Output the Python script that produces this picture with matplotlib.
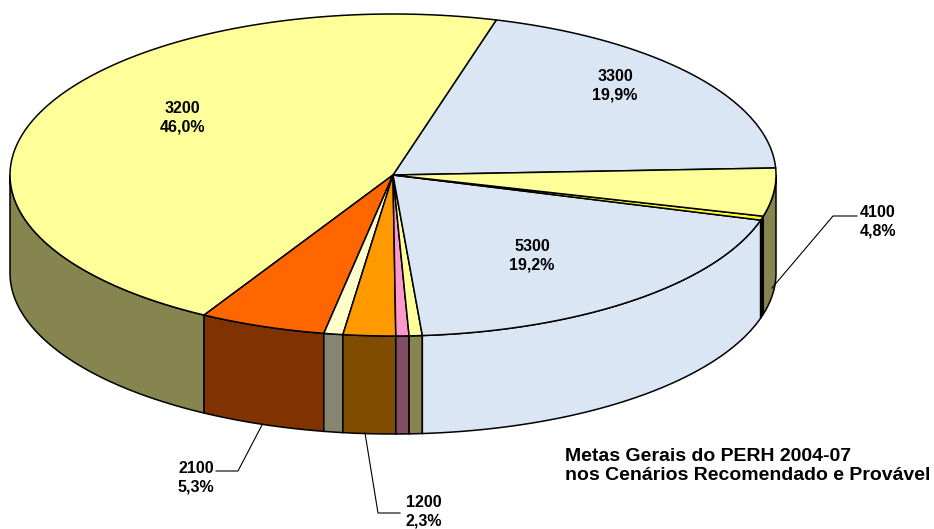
#!/usr/bin/env python
# -*- coding: utf-8 -*-

import numpy as np
import matplotlib.pyplot as plt
from matplotlib.patches import Polygon

plt.rcParams['font.family'] = ['Liberation Sans', 'DejaVu Sans']

# === Dados (percentuais por meta)
codigos = ['3300', '3200', '2100', 'a', '1200', 'b', 'c', '5300', 'd', '4100']
percentuais = [19.9, 46.0, 5.3, 0.8, 2.2, 0.55, 0.55, 19.2, 0.4, 4.8]
rotulos = ['3300\n19,9%', '3200\n46,0%', '2100\n5,3%', '', '1200\n2,3%',
           '', '', '5300\n19,2%', '', '4100\n4,8%']

cor_topo = ['#DAE6F4', '#FFFF99', '#FF6600', '#FFFFCC', '#FF9900',
            '#FF99CC', '#FFFF99', '#DAE6F4', '#FFFF33', '#FFFF99']
cor_lado = ['#C8D6E6', '#86844F', '#803300', '#868670', '#804C00',
            '#804C66', '#86844F', '#DAE6F4', '#111100', '#86844F']

titulo = 'Metas Gerais do PERH 2004-07\nnos Cenários Recomendado e Provável'

# === Geometria da pizza 3D (em pixels)
cx, cy = 393, 175
a, b = 383, 161
h = 98
inicio = 2.5

def ponto(t, dz=0):
    t = np.radians(t)
    return cx + a * np.cos(t), cy - b * np.sin(t) + dz

p = np.array(percentuais)
limites = inicio + np.concatenate([[0], np.cumsum(p)]) / p.sum() * 360

fig = plt.figure(figsize=(9.34, 5.29), dpi=100)
ax = fig.add_axes([0, 0, 1, 1])
ax.set_xlim(0, 934)
ax.set_ylim(529, 0)
ax.axis('off')

# === Paredes laterais (parte da frente)
for i in range(len(p)):
    t1, t2 = limites[i], limites[i + 1]
    for base in (180, 540):
        s1, s2 = max(t1, base), min(t2, base + 180)
        if s2 <= s1:
            continue
        tt = np.linspace(s1, s2, 80)
        x, y = ponto(tt)
        xb, yb = ponto(tt[::-1], h)
        pts = np.column_stack([np.concatenate([x, xb]), np.concatenate([y, yb])])
        ax.add_patch(Polygon(pts, closed=True, fc=cor_lado[i], ec='black', lw=1.1))

# === Topo
for i in range(len(p)):
    tt = np.linspace(limites[i], limites[i + 1], 120)
    x, y = ponto(tt)
    pts = np.column_stack([np.concatenate([[cx], x]), np.concatenate([[cy], y])])
    ax.add_patch(Polygon(pts, closed=True, fc=cor_topo[i], ec='black', lw=1.1))

# === Rótulos
fonte = dict(fontsize=11.5, fontweight='bold', ha='center', va='center', linespacing=1.3)
ax.text(182, 118, rotulos[1], **fonte)
ax.text(615, 86, rotulos[0], **fonte)
ax.text(532, 256, rotulos[7], **fonte)
ax.text(878, 222, rotulos[9], **fonte)
ax.text(196, 478, rotulos[2], **fonte)
ax.text(424, 512, rotulos[4], **fonte)

# linhas de chamada
ax.plot([857, 833, 772], [216, 216, 288], color='black', lw=0.8)
ax.plot([216, 238, 262], [471, 471, 425], color='black', lw=0.8)
ax.plot([365, 378, 400], [433, 513, 513], color='black', lw=0.8)

ax.text(565, 466, titulo, fontsize=14, fontweight='bold', ha='left', va='center',
        linespacing=1.2)

fig.savefig('out.png', dpi=100)
